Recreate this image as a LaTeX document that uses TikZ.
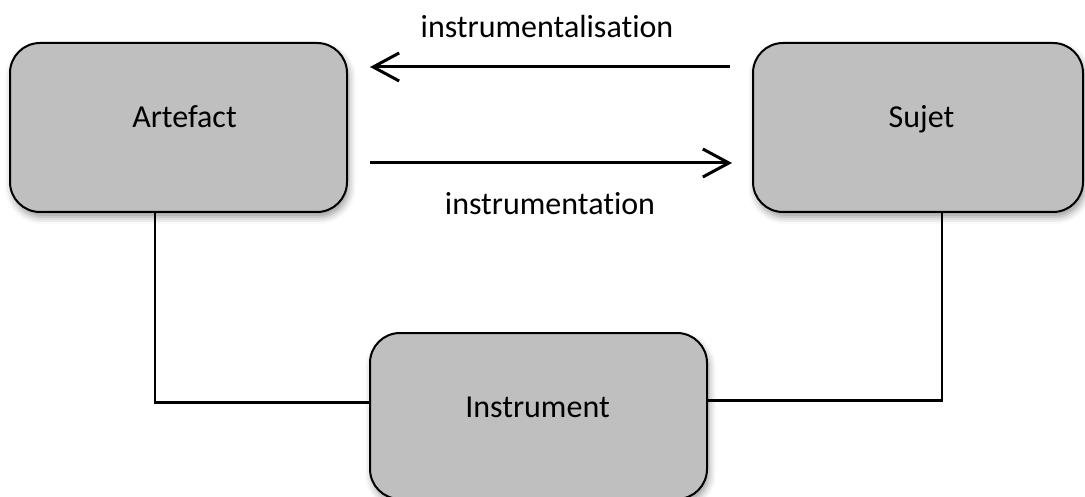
\documentclass[tikz,border=0pt]{standalone}
\usepackage{fontspec}
\setmainfont{Carlito}[Ligatures=NoCommon]
\usetikzlibrary{arrows.meta,shadows.blur}
\begin{document}
\begin{tikzpicture}[x=1pt,y=1pt,
  box/.style={draw=black, line width=2pt, fill=boxgray, rounded corners=30pt,
    outer sep=0pt, inner sep=0pt,
    blur shadow={shadow xshift=2pt, shadow yshift=-5pt, shadow blur radius=7pt, shadow opacity=40}},
  lbl/.style={font=\fontsize{32}{38}\selectfont, anchor=base, inner sep=0pt},
  flow/.style={line width=3pt, -{Straight Barb[length=26pt,width=28pt,line width=3pt]}},
  conn/.style={line width=2.5pt}]
\definecolor{boxgray}{HTML}{BFBFBF}
\useasboundingbox (0,0) rectangle (1085,-497);
\node[box, minimum width=337pt, minimum height=169pt] (art) at (178.5,-127.5) {};
\node[box, minimum width=330pt, minimum height=169pt] (suj) at (918,-127.5) {};
\node[box, minimum width=337pt, minimum height=166pt] (ins) at (538.5,-416) {};
\node[lbl] (artT) at ([xshift=6pt, yshift=-0.5pt]art.center) {Artefact};
\node[lbl] (sujT) at ([xshift=3.5pt, yshift=-0.5pt]suj.center) {Sujet};
\node[lbl] (insT) at ([xshift=-1pt, yshift=-1pt]ins.center) {Instrument};
% arrows
\draw[flow, shorten <=23pt, shorten >=23pt] ([yshift=60.5pt]suj.west) -- ([yshift=60.5pt]art.east)
  node[lbl, midway, yshift=29pt, xshift=-3pt] (l1) {instrumentalisation};
\draw[flow, shorten <=23pt, shorten >=21pt] ([yshift=-35.5pt]art.east) -- ([yshift=-35.5pt]suj.west)
  node[lbl, midway, yshift=-52pt] (l2) {instrumentation};
% connectors
\draw[conn] ([xshift=-23.5pt]art.south) |- ([yshift=13.5pt]ins.west);
\draw[conn] ([xshift=24pt]suj.south) |- ([yshift=15.5pt]ins.east);
\end{tikzpicture}
\end{document}
